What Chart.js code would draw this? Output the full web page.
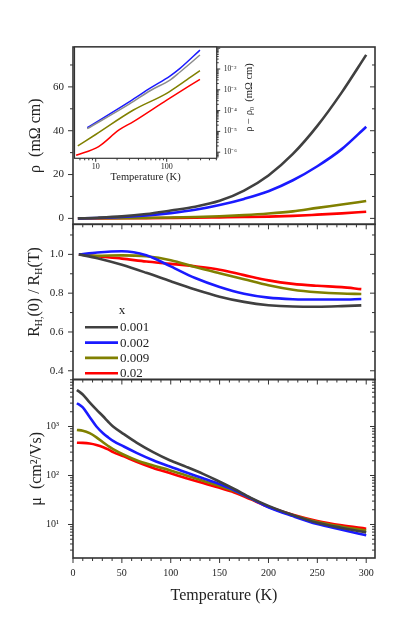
<!DOCTYPE html>
<html>
<head>
<meta charset="utf-8">
<script src="https://cdn.jsdelivr.net/npm/chart.js@4.4.1/dist/chart.umd.min.js"></script>
<style>
  body { margin: 0; background: #fff; }
  #wrap { position: relative; width: 415px; height: 625px; }
  #wrap canvas { position: absolute; left: 0; top: 0; }
</style>
</head>
<body>
<div id="wrap">
  <canvas id="rhoChart" width="415" height="625"></canvas>
  <canvas id="hallChart" width="415" height="625"></canvas>
  <canvas id="muChart" width="415" height="625"></canvas>
  <canvas id="insetChart" width="415" height="625"></canvas>
</div>
<script>
// ---- data ----
const seriesX = ["0.001", "0.002", "0.009", "0.02"];

// resistivity (mOhm cm), top panel
const tRho = [5, 25, 50, 75, 100, 125, 150, 175, 200, 225, 250, 275, 300];
const rho001 = [0, 0.3, 0.9, 2.0, 3.6, 5.3, 8.0, 12.7, 19.6, 29.4, 42.2, 57.5, 74.6];
const rho002 = [0, 0.2, 0.6, 1.3, 2.4, 3.9, 6.1, 8.9, 12.4, 17.4, 23.8, 31.6, 41.8];
const rho009 = [0, 0.05, 0.12, 0.25, 0.4, 0.65, 1.0, 1.5, 2.2, 3.2, 4.8, 6.3, 7.9];
const rho02 = [0, 0.02, 0.06, 0.12, 0.2, 0.3, 0.45, 0.6, 0.8, 1.15, 1.7, 2.3, 3.0];

// R_H(0) / R_H(T), middle panel
const tHall = [6, 25, 50, 75, 100, 125, 150, 175, 200, 225, 250, 275, 295];
const hall001 = [1.0, 0.98, 0.946, 0.905, 0.861, 0.819, 0.782, 0.755, 0.738, 0.731, 0.730, 0.733, 0.737];
const hall002 = [1.0, 1.010, 1.016, 0.995, 0.938, 0.878, 0.832, 0.797, 0.777, 0.769, 0.767, 0.767, 0.770];
const hall009 = [1.0, 0.993, 0.995, 0.99, 0.97, 0.935, 0.903, 0.872, 0.841, 0.818, 0.805, 0.798, 0.796];
const hall02 = [1.0, 0.99, 0.978, 0.963, 0.951, 0.938, 0.921, 0.893, 0.866, 0.848, 0.838, 0.831, 0.821];

// mobility (cm2/Vs), bottom panel
const tMu = [4, 10, 17, 24, 31, 36, 41, 52, 65, 82, 99, 116, 133, 147, 165, 182, 200, 225, 250, 275, 300];
const mu001 = [5580, 4500, 3100, 2200, 1600, 1250, 1000, 700, 470, 300, 205, 150, 108, 80, 53, 35, 24, 15.6, 10.8, 8.5, 6.9];
const mu002 = [2990, 2450, 1560, 1000, 720, 600, 510, 390, 290, 205, 152, 115, 88, 70, 50, 34, 22.5, 14.8, 10.2, 7.8, 6.0];
const mu009 = [850, 820, 730, 600, 470, 400, 345, 265, 205, 160, 128, 100, 78, 64, 48, 34, 23, 15.4, 11.2, 9.0, 7.5];
const mu02 = [466, 462, 448, 420, 378, 340, 300, 245, 190, 142, 112, 88, 70, 58, 45, 32.5, 23, 15.8, 11.8, 9.6, 8.2];

// inset: rho - rho0 (log-log)
const tIn001 = [7.6, 30, 60, 111, 154, 294];
const dRho001 = [1.35e-5, 2.1e-4, 9.5e-4, 2.95e-3, 7.2e-3, 4.7e-2];
const tIn002 = [7.6, 30, 60, 111, 154, 294];
const dRho002 = [1.5e-5, 2.7e-4, 1.26e-3, 4.6e-3, 1.07e-2, 8.1e-2];
const tIn009 = [5.6, 10, 34, 100, 180, 294];
const dRho009 = [2.0e-6, 7.1e-6, 1.07e-4, 6.8e-4, 2.6e-3, 8.3e-3];
const tIn02 = [5.3, 11, 21.3, 34, 100, 294];
const dRho02 = [7.1e-7, 1.86e-6, 1.17e-5, 2.95e-5, 3.2e-4, 3.2e-3];

// labelled ticks
const tempTicks = [0, 50, 100, 150, 200, 250, 300];
const rhoTicks = [0, 20, 40, 60];
const hallTicks = [0.4, 0.6, 0.8, 1.0];
const muTicks = [10, 100, 1000];
const insetTTicks = [10, 100];
const insetRhoTicks = [1e-6, 1e-5, 1e-4, 1e-3, 1e-2];

// ---- styles ----
const colors = ["#404040", "#1a1aff", "#808000", "#ff0000"];
const insetColors = ["#8c8c8c", "#1a1aff", "#808000", "#ff0000"];
const family = "'Liberation Serif', 'Times New Roman', serif";

Chart.defaults.font.family = family;
Chart.defaults.color = "#222";

const sup = s => String(s).split("").map(c => "⁻⁰¹²³⁴⁵⁶⁷⁸⁹"["-0123456789".indexOf(c)]).join("");
const powLabel = v => {
  const e = Math.log10(v);
  return Math.abs(e - Math.round(e)) < 1e-6 ? "10" + sup(Math.round(e)) : "";
};
const setTicks = vals => s => { s.ticks = vals.map(v => ({ value: v })); };

function linTicks(min, max, step, major) {
  const out = [];
  for (let k = Math.ceil(min / step - 1e-9); k * step <= max + 1e-9; k++) {
    const v = k * step, r = v / major;
    out.push({ v, major: Math.abs(r - Math.round(r)) < 1e-6 });
  }
  return out;
}
function logTicks(min, max) {
  const out = [];
  for (let e = Math.floor(Math.log10(min)); e <= Math.ceil(Math.log10(max)); e++) {
    for (let m = 1; m < 10; m++) {
      const v = m * Math.pow(10, e);
      if (v >= min && v <= max) out.push({ v, major: m === 1 });
    }
  }
  return out;
}

function line(ts, ys, label, color, width) {
  return {
    label,
    data: ts.map((t, i) => ({ x: t, y: ys[i] })),
    borderColor: color,
    borderWidth: width,
    pointRadius: 0,
    cubicInterpolationMode: "monotone",
    fill: false,
  };
}

// frame around the plot area + tick marks placed through the scales
const frameTicks = {
  id: "frameTicks",
  afterDraw(chart, args, o) {
    const { ctx, chartArea: a } = chart;
    const sx = chart.scales.x, sy = chart.scales.y;
    ctx.save();
    ctx.strokeStyle = "#333";
    ctx.lineWidth = 1;
    ctx.beginPath();
    o.xTicks.forEach(t => {
      const p = sx.getPixelForValue(t.v), len = t.major ? o.major : o.minor;
      if (o.top) { ctx.moveTo(p, a.top); ctx.lineTo(p, a.top + (o.top === "in" ? len : -len)); }
      if (o.bottom) { ctx.moveTo(p, a.bottom); ctx.lineTo(p, a.bottom + (o.bottom === "out" ? len : -len)); }
    });
    o.yTicks.forEach(t => {
      const p = sy.getPixelForValue(t.v), len = t.major ? o.major : o.minor;
      if (o.left) { ctx.moveTo(a.left, p); ctx.lineTo(a.left + (o.left === "out" ? -len : len), p); }
      if (o.right) { ctx.moveTo(a.right, p); ctx.lineTo(a.right + (o.right === "out" ? len : -len), p); }
    });
    ctx.stroke();
    ctx.lineWidth = o.frameWidth;
    ctx.strokeRect(a.left, a.top, a.width, a.height);
    ctx.restore();
  },
};

// rotated text with subscripts
function drawRich(ctx, parts, x, y, size) {
  ctx.save();
  ctx.translate(x, y);
  ctx.rotate(-Math.PI / 2);
  ctx.fillStyle = "#222";
  ctx.textBaseline = "middle";
  ctx.textAlign = "left";
  let w = 0;
  parts.forEach(p => {
    ctx.font = (p.sub ? size * 0.62 : size) + "px " + family;
    w += ctx.measureText(p.t).width;
  });
  let cx = -w / 2;
  parts.forEach(p => {
    ctx.font = (p.sub ? size * 0.62 : size) + "px " + family;
    ctx.fillText(p.t, cx, p.sub ? size * 0.3 : 0);
    cx += ctx.measureText(p.t).width;
  });
  ctx.restore();
}

const hallExtras = {
  id: "hallExtras",
  afterDraw(chart) {
    const { ctx, chartArea: a } = chart;
    drawRich(ctx, [{ t: "R" }, { t: "H,", sub: true }, { t: "(0) / R" }, { t: "H", sub: true }, { t: "(T)" }], 35, 292, 16);
    ctx.save();
    ctx.font = "13px " + family;
    ctx.fillStyle = "#222";
    ctx.textBaseline = "middle";
    ctx.textAlign = "center";
    ctx.fillText("x", a.left + 49, a.top + 86);
    ctx.textAlign = "left";
    chart.data.datasets.forEach((d, i) => {
      const y = a.top + 103 + i * 15.3;
      ctx.strokeStyle = d.borderColor;
      ctx.lineWidth = d.borderWidth;
      ctx.beginPath();
      ctx.moveTo(a.left + 12, y);
      ctx.lineTo(a.left + 45, y);
      ctx.stroke();
      ctx.fillText(d.label, a.left + 47, y + 0.5);
    });
    ctx.restore();
  },
};

const insetExtras = {
  id: "insetExtras",
  beforeDraw(chart) {
    const { ctx, chartArea: a } = chart;
    ctx.save();
    ctx.fillStyle = "#fff";
    ctx.fillRect(a.left, a.top, a.width, a.height);
    ctx.restore();
  },
  afterDraw(chart) {
    drawRich(chart.ctx, [{ t: "ρ − ρ" }, { t: "0", sub: true }, { t: "  (mΩ cm)" }], 249, 97.5, 10.5);
  },
};

const xRange = { min: 0, max: 309 };
const xFrameTicks = linTicks(xRange.min, xRange.max, 10, 50);

function makePanel(id, cfg) {
  const xs = {
    type: "linear", min: xRange.min, max: xRange.max, display: cfg.showX,
    afterBuildTicks: setTicks(tempTicks),
    grid: { display: false, drawTicks: false }, border: { display: false },
    ticks: { padding: 9, font: { size: 10 }, maxRotation: 0, autoSkip: false },
    title: { display: true, text: "Temperature (K)", font: { size: 16 }, padding: { top: 0, bottom: 3 } },
  };
  if (cfg.showX) xs.afterFit = s => { s.height = 50; };
  const ys = Object.assign({
    afterFit: s => { s.width = 60; },
    grid: { display: false, drawTicks: false }, border: { display: false },
  }, cfg.y);
  return new Chart(document.getElementById(id), {
    type: "line",
    data: { datasets: cfg.datasets },
    options: {
      responsive: false, animation: false, devicePixelRatio: 1,
      layout: { padding: { left: 13, right: 40, top: cfg.top, bottom: cfg.bottom } },
      scales: { x: xs, y: ys },
      plugins: {
        legend: { display: false }, tooltip: { enabled: false },
        frameTicks: Object.assign({ xTicks: xFrameTicks, major: 5, minor: 3, frameWidth: 1.6, left: "out", right: "in" }, cfg.frame),
      },
    },
    plugins: [frameTicks].concat(cfg.plugins || []),
  });
}

makePanel("rhoChart", {
  top: 47, bottom: 400.7, showX: false,
  datasets: [
    line(tRho, rho001, seriesX[0], colors[0], 2.6),
    line(tRho, rho002, seriesX[1], colors[1], 2.6),
    line(tRho, rho009, seriesX[2], colors[2], 2.6),
    line(tRho, rho02, seriesX[3], colors[3], 2.6),
  ],
  y: {
    type: "linear", min: -2.7, max: 78.2,
    afterBuildTicks: setTicks(rhoTicks),
    ticks: { padding: 9, font: { size: 11 }, autoSkip: false },
    title: { display: true, text: "ρ  (mΩ cm)", font: { size: 16 }, padding: { top: 13, bottom: 0 } },
  },
  frame: { yTicks: linTicks(-2.7, 78.2, 10, 20) },
});

makePanel("hallChart", {
  top: 224.3, bottom: 245.5, showX: false,
  datasets: [
    line(tHall, hall001, seriesX[0], colors[0], 2.6),
    line(tHall, hall002, seriesX[1], colors[1], 2.6),
    line(tHall, hall009, seriesX[2], colors[2], 2.6),
    line(tHall, hall02, seriesX[3], colors[3], 2.6),
  ],
  y: {
    type: "linear", min: 0.355, max: 1.155,
    afterBuildTicks: setTicks(hallTicks),
    ticks: { padding: 9.5, font: { size: 11 }, autoSkip: false, callback: v => v.toFixed(1) },
  },
  frame: { yTicks: linTicks(0.355, 1.155, 0.1, 0.2), top: "in" },
  plugins: [hallExtras],
});

makePanel("muChart", {
  top: 379.5, bottom: 17, showX: true,
  datasets: [
    line(tMu, mu001, seriesX[0], colors[0], 2.6),
    line(tMu, mu002, seriesX[1], colors[1], 2.6),
    line(tMu, mu009, seriesX[2], colors[2], 2.6),
    line(tMu, mu02, seriesX[3], colors[3], 2.6),
  ],
  y: {
    type: "logarithmic", min: 2.07, max: 9100,
    afterBuildTicks: setTicks(muTicks),
    ticks: { padding: 14, font: { size: 10 }, autoSkip: false, callback: powLabel },
    title: { display: true, text: "μ  (cm²/Vs)", font: { size: 16 }, padding: { top: 14, bottom: 0 } },
  },
  frame: { yTicks: logTicks(2.07, 9100), top: "in", bottom: "out" },
});

// inset
new Chart(document.getElementById("insetChart"), {
  type: "line",
  data: {
    datasets: [
      line(tIn001, dRho001, seriesX[0], insetColors[0], 1.5),
      line(tIn009, dRho009, seriesX[2], insetColors[2], 1.5),
      line(tIn02, dRho02, seriesX[3], insetColors[3], 1.5),
      line(tIn002, dRho002, seriesX[1], insetColors[1], 1.5),
    ],
  },
  options: {
    responsive: false, animation: false, devicePixelRatio: 1,
    layout: { padding: { left: 74.5, right: 158.3, top: 47, bottom: 436.7 } },
    scales: {
      x: {
        type: "logarithmic", min: 5.03, max: 506,
        afterBuildTicks: setTicks(insetTTicks),
        afterFit: s => { s.height = 30; },
        grid: { display: false, drawTicks: false }, border: { display: false },
        ticks: { padding: 4, font: { size: 8 }, autoSkip: false, maxRotation: 0, callback: v => String(v) },
        title: { display: true, text: "Temperature (K)", font: { size: 10.5 }, padding: { top: 0, bottom: 4.3 } },
      },
      y: {
        type: "logarithmic", position: "right", min: 5.09e-7, max: 0.1143,
        afterBuildTicks: setTicks(insetRhoTicks),
        afterFit: s => { s.width = 40; },
        grid: { display: false, drawTicks: false }, border: { display: false },
        ticks: { padding: 7, font: { size: 7.5 }, autoSkip: false, callback: powLabel },
      },
    },
    plugins: {
      legend: { display: false }, tooltip: { enabled: false },
      frameTicks: {
        xTicks: logTicks(5.03, 506), yTicks: logTicks(5.09e-7, 0.1143),
        major: 3.5, minor: 2, frameWidth: 1.2, bottom: "out", right: "out",
      },
    },
  },
  plugins: [insetExtras, frameTicks],
});
</script>
</body>
</html>
